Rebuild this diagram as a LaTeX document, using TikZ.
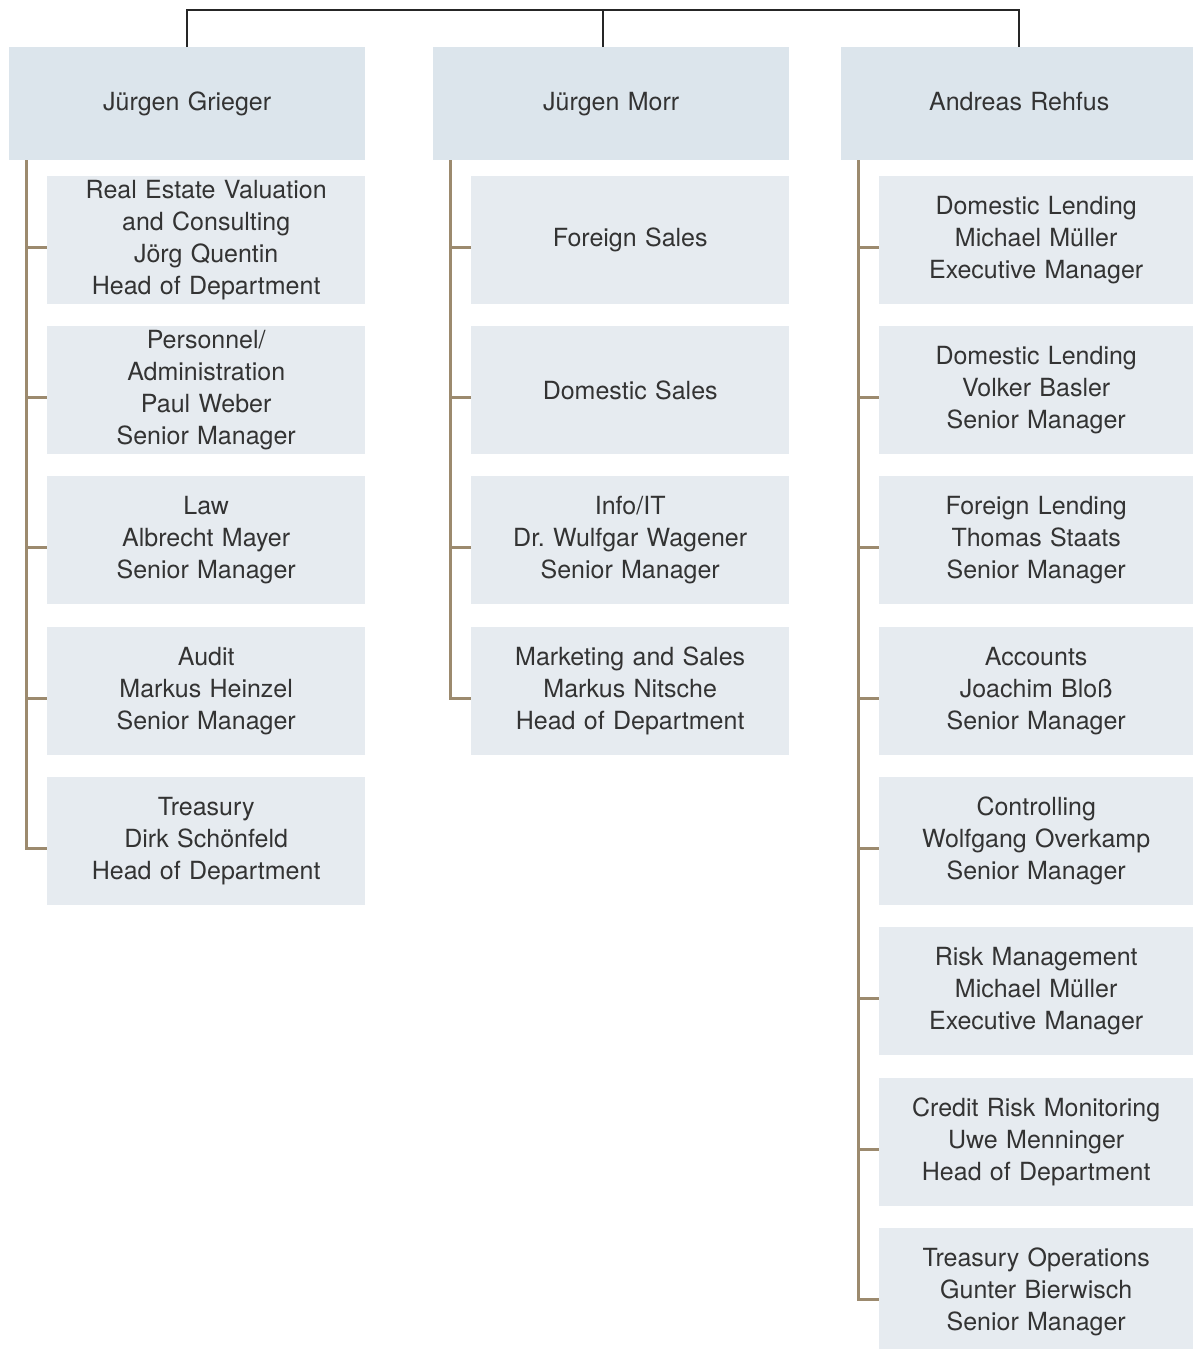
\documentclass[tikz,border=0pt]{standalone}
\usepackage{fontspec}
\setmainfont{TeX Gyre Heros}
\definecolor{topfill}{HTML}{DCE5EC}
\definecolor{subfill}{HTML}{E6EBF0}
\definecolor{brownline}{HTML}{9C8A6E}
\definecolor{txt}{HTML}{333333}
\begin{document}
\begin{tikzpicture}[x=1pt,y=-1pt,
  headbox/.style={fill=topfill,anchor=north west,inner sep=0pt,minimum height=113pt,text width=#1,align=center,text=txt,font=\fontsize{25}{32}\selectfont,text height=18pt,text depth=5pt},
  subbox/.style={fill=subfill,anchor=north west,inner sep=0pt,minimum height=128pt,text width=#1,align=center,text=txt,font=\fontsize{25}{32}\selectfont},
  blackconn/.style={draw=black!85,line width=2.5pt},
  brownconn/.style={draw=brownline,line width=3pt}]
\useasboundingbox (0,0) rectangle (1193,1349);
% heads
\node[headbox=356pt] (g) at (9,47) {Jürgen Grieger};
\node[headbox=356pt] (m) at (433,47) {Jürgen Morr};
\node[headbox=352pt] (r) at (841,47) {\hspace*{4pt}Andreas Rehfus};
% left column
\node[subbox=318pt] (g1) at (47,176) {Real Estate Valuation\\and Consulting\\Jörg Quentin\\Head of Department};
\node[subbox=318pt] (g2) at (47,326) {Personnel/\\Administration\\Paul Weber\\Senior Manager};
\node[subbox=318pt] (g3) at (47,476) {Law\\Albrecht Mayer\\Senior Manager};
\node[subbox=318pt] (g4) at (47,627) {Audit\\Markus Heinzel\\Senior Manager};
\node[subbox=318pt] (g5) at (47,777) {Treasury\\Dirk Schönfeld\\Head of Department};
% middle column
\node[subbox=318pt] (m1) at (471,176) {Foreign Sales};
\node[subbox=318pt] (m2) at (471,326) {Domestic Sales};
\node[subbox=318pt] (m3) at (471,476) {Info/IT\\Dr.\ Wulfgar Wagener\\Senior Manager};
\node[subbox=318pt] (m4) at (471,627) {Marketing and Sales\\Markus Nitsche\\Head of Department};
% right column
\node[subbox=314pt] (r1) at (879,176) {Domestic Lending\\Michael Müller\\Executive Manager};
\node[subbox=314pt] (r2) at (879,326) {Domestic Lending\\Volker Basler\\Senior Manager};
\node[subbox=314pt] (r3) at (879,476) {Foreign Lending\\Thomas Staats\\Senior Manager};
\node[subbox=314pt] (r4) at (879,627) {Accounts\\Joachim Bloß\\Senior Manager};
\node[subbox=314pt] (r5) at (879,777) {Controlling\\Wolfgang Overkamp\\Senior Manager};
\node[subbox=314pt] (r6) at (879,927) {Risk Management\\Michael Müller\\Executive Manager};
\node[subbox=314pt] (r7) at (879,1078) {Credit Risk Monitoring\\Uwe Menninger\\Head of Department};
\node[subbox=314pt] (r8) at (879,1228) {Treasury Operations\\Gunter Bierwisch\\Senior Manager};
% top connector
\coordinate (bar) at (0,10);
\coordinate (mdrop) at (603,47);
\coordinate (rdrop) at (1019,47);
\draw[blackconn] (g.north) -- (g.north |- bar) -| (rdrop);
\draw[blackconn] (mdrop) -- (mdrop |- bar);
% tick points
\foreach \i in {1,...,5} {\coordinate (gk\i) at ([yshift=-7pt]g\i.west);}
\foreach \i in {1,...,4} {\coordinate (mk\i) at ([yshift=-7pt]m\i.west);}
\foreach \i in {1,...,8} {\coordinate (rk\i) at ([yshift=-7pt]r\i.west);}
% brown trunks
\coordinate (gt) at (26,160);
\coordinate (mt) at (450,160);
\coordinate (rt) at (858,160);
\draw[brownconn] (gt) |- (gk5);
\foreach \i in {1,2,3,4} {\draw[brownconn] (gt |- gk\i) -- (gk\i);}
\draw[brownconn] (mt) |- (mk4);
\foreach \i in {1,2,3} {\draw[brownconn] (mt |- mk\i) -- (mk\i);}
\draw[brownconn] (rt) |- (rk8);
\foreach \i in {1,...,7} {\draw[brownconn] (rt |- rk\i) -- (rk\i);}
\end{tikzpicture}
\end{document}
